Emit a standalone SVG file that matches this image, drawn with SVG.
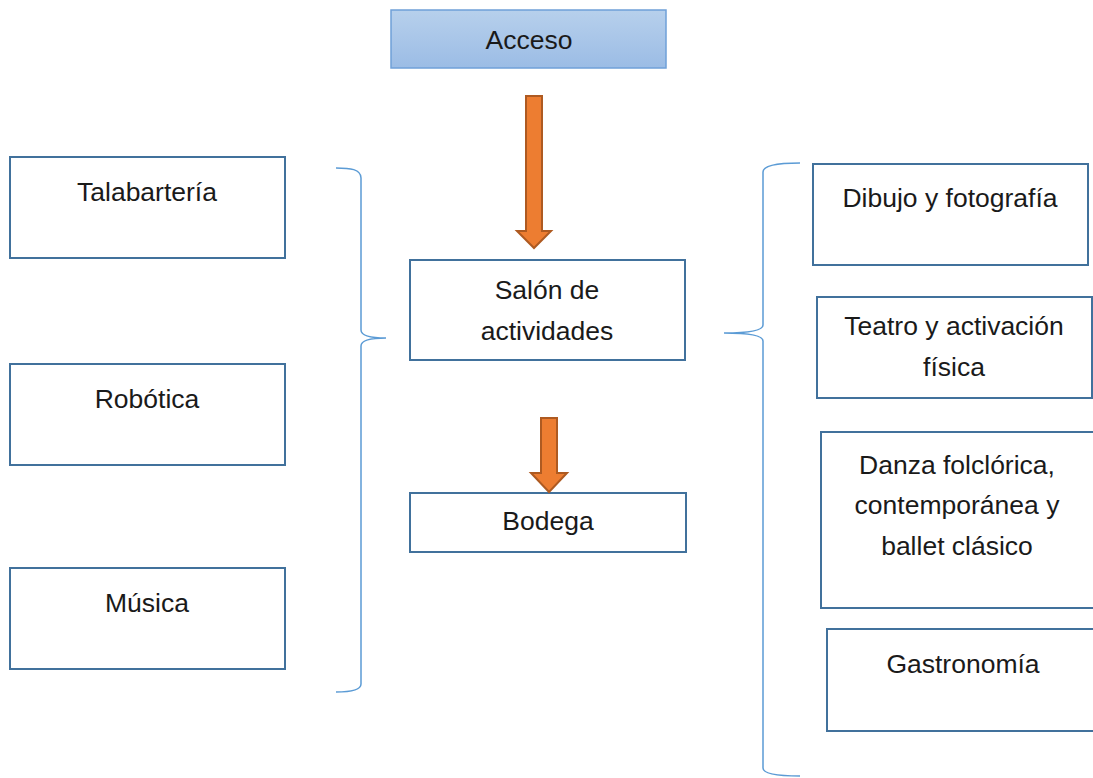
<svg xmlns="http://www.w3.org/2000/svg" width="1093" height="778" viewBox="0 0 1093 778">
<defs>
<linearGradient id="g" x1="0" y1="0" x2="0" y2="1">
<stop offset="0" stop-color="#b7d0ec"/>
<stop offset="1" stop-color="#9bbce5"/>
</linearGradient>
</defs>
<style>
.box{fill:#fff;stroke:#41719c;stroke-width:2}
.t{font-family:"Liberation Sans",Arial,sans-serif;font-size:26.5px;fill:#1a1a1a;text-anchor:middle}
.arrow{fill:#ed7d31;stroke:#ae5a21;stroke-width:2}
.brace{fill:none;stroke:#5b9bd5;stroke-width:1.5}
</style>
<rect width="1093" height="778" fill="#fff"/>
<g id="acceso"><rect x="391" y="10" width="275" height="58" fill="url(#g)" stroke="#6fa0d8" stroke-width="1.5"/><text class="t" x="529" y="49">Acceso</text></g>
<g id="talabarteria"><rect class="box" x="10" y="157" width="275" height="101"/><text class="t" x="147" y="201">Talabartería</text></g>
<g id="robotica"><rect class="box" x="10" y="364" width="275" height="101"/><text class="t" x="147" y="408">Robótica</text></g>
<g id="musica"><rect class="box" x="10" y="568" width="275" height="101"/><text class="t" x="147" y="612">Música</text></g>
<g id="salon"><rect class="box" x="410" y="260" width="275" height="100"/><text class="t" x="547" y="299">Salón de</text><text class="t" x="547" y="340">actividades</text></g>
<g id="bodega"><rect class="box" x="410" y="493" width="276" height="59"/><text class="t" x="548" y="530">Bodega</text></g>
<g id="dibujo"><rect class="box" x="813" y="164" width="275" height="101"/><text class="t" x="950" y="207">Dibujo y fotografía</text></g>
<g id="teatro"><rect class="box" x="817" y="297" width="275" height="101"/><text class="t" x="954" y="335">Teatro y activación</text><text class="t" x="954" y="376">física</text></g>
<g id="danza"><rect class="box" x="821" y="432" width="290" height="176"/><text class="t" x="957" y="474">Danza folclórica,</text><text class="t" x="957" y="514">contemporánea y</text><text class="t" x="957" y="555">ballet clásico</text></g>
<g id="gastronomia"><rect class="box" x="827" y="629" width="290" height="102"/><text class="t" x="963" y="673">Gastronomía</text></g>
<g id="connectors">
<path class="arrow" d="M526,96 L542,96 L542,231 L551,231 L534,248 L517,231 L526,231 Z"/>
<path class="arrow" d="M541,418 L557,418 L557,473 L567,473 L549,492 L531,473 L541,473 Z"/>
<path class="brace" d="M336,168 C350,168 361,169 361,178 L361,330 C361,336 370,338 386,338 C370,338 361,340 361,346 L361,684 C361,690 350,692 336,692"/>
<path class="brace" d="M800,163 C785,163 763,164 763,172 L763,325 C763,331 745,333 724,333 C745,333 763,335 763,341 L763,768 C763,774 780,776 800,776"/>
</g>
</svg>
